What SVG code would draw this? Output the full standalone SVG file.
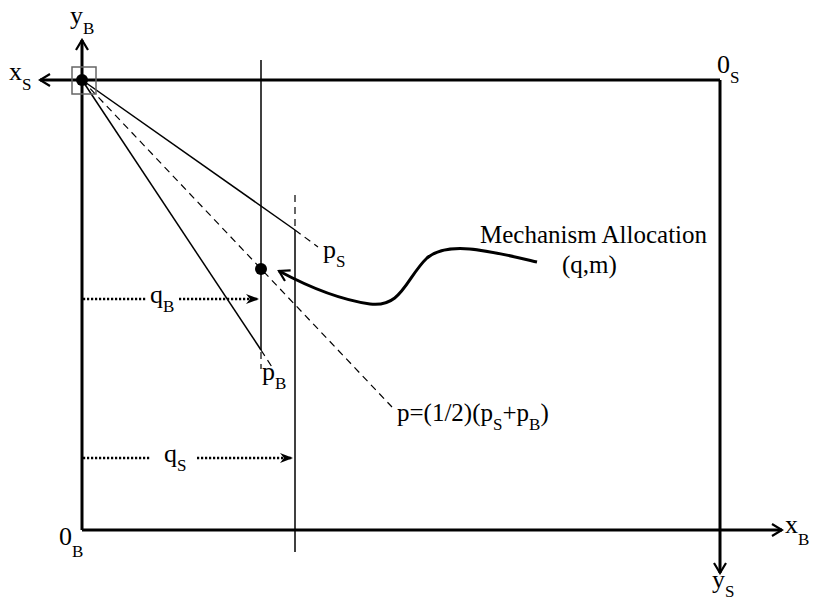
<svg xmlns="http://www.w3.org/2000/svg" width="813" height="600" viewBox="0 0 813 600">
<style>
text{font-family:"Liberation Serif","Times New Roman",serif;fill:#000}
.lbl{font-size:26px}
.sub{font-size:17px}
.thick{stroke:#000;stroke-width:3;fill:none}
.thin{stroke:#000;stroke-width:1.5;fill:none}
.dash{stroke:#000;stroke-width:1.2;fill:none;stroke-dasharray:7 5}
.dot{stroke:#000;stroke-width:2.5;fill:none;stroke-dasharray:2.2 1.8}
</style>
<defs>
<marker id="ah" viewBox="0 0 14 14" refX="12" refY="7" markerWidth="14" markerHeight="14" orient="auto" markerUnits="userSpaceOnUse">
<path d="M2,1 L12,7 L2,13" fill="none" stroke="#000" stroke-width="2.2"/>
</marker>
<marker id="ahf" viewBox="0 0 14 12" refX="13" refY="6" markerWidth="14" markerHeight="12" orient="auto" markerUnits="userSpaceOnUse">
<path d="M0,1 L13,6 L0,11 L4,6 z" fill="#000"/>
</marker>
</defs>
<rect x="0" y="0" width="813" height="600" fill="#fff"/>
<g id="connectors">
<line class="thick" x1="82" y1="80" x2="720" y2="80"/>
<line class="thick" x1="82" y1="80" x2="82" y2="530"/>
<line class="thick" x1="82" y1="530" x2="782" y2="530" marker-end="url(#ah)"/>
<line class="thick" x1="720" y1="80" x2="720" y2="573" marker-end="url(#ah)"/>
<line class="thick" x1="82" y1="80" x2="40" y2="80" marker-end="url(#ah)"/>
<line class="thick" x1="82" y1="80" x2="82" y2="40" marker-end="url(#ah)"/>
<line class="thin" x1="261" y1="60" x2="261" y2="350"/>
<line class="dash" x1="261" y1="352" x2="261" y2="369"/>
<line class="dash" x1="295" y1="195" x2="295" y2="230"/>
<line class="thin" x1="295" y1="230" x2="295" y2="552"/>
<line class="thin" x1="82" y1="80" x2="295" y2="230"/>
<line class="dash" x1="295" y1="230" x2="318" y2="247"/>
<line class="thin" x1="82" y1="80" x2="261" y2="350"/>
<line class="dash" x1="261" y1="350" x2="272" y2="367"/>
<line class="dash" x1="82" y1="80" x2="392" y2="407"/>
<line class="dot" x1="83" y1="299" x2="146" y2="299"/>
<line class="dot" x1="179" y1="299" x2="259" y2="299" marker-end="url(#ahf)"/>
<line class="dot" x1="83" y1="458" x2="151" y2="458"/>
<line class="dot" x1="197" y1="458" x2="293" y2="458" marker-end="url(#ahf)"/>
<path class="thick" d="M537,262 C490,251 448,240 427,258 C406,278 402,308 370,304 C335,299 305,285 279,271" marker-end="url(#ah)"/>
</g>
<g id="origin-box">
<rect x="72" y="67" width="24" height="27" fill="none" stroke="#666" stroke-width="1.5"/>
<circle cx="82" cy="80" r="6" fill="#000"/>
</g>
<g id="allocation-point">
<circle cx="261" cy="269" r="6" fill="#000"/>
</g>
<g id="labels">
<text class="lbl" x="70" y="24">y<tspan class="sub" dy="10">B</tspan></text>
<text class="lbl" x="9" y="80">x<tspan class="sub" dy="10">S</tspan></text>
<text class="lbl" x="717" y="73">0<tspan class="sub" dy="10">S</tspan></text>
<text class="lbl" x="59" y="545">0<tspan class="sub" dy="12">B</tspan></text>
<text class="lbl" x="785" y="533">x<tspan class="sub" dy="12">B</tspan></text>
<text class="lbl" x="712" y="588">y<tspan class="sub" dy="9">S</tspan></text>
<text class="lbl" x="150" y="303">q<tspan class="sub" dy="9">B</tspan></text>
<text class="lbl" x="164" y="462">q<tspan class="sub" dy="9">S</tspan></text>
<text class="lbl" x="323" y="258">p<tspan class="sub" dy="9">S</tspan></text>
<text class="lbl" x="262" y="380">p<tspan class="sub" dy="9">B</tspan></text>
</g>
<g id="mechanism-label">
<text x="480" y="243" font-size="25">Mechanism Allocation</text>
<text x="562" y="273" font-size="25">(q,m)</text>
</g>
<g id="price-label">
<text x="397" y="421" font-size="25">p=(1/2)(p<tspan font-size="17" dy="9">S</tspan><tspan dy="-9">+p</tspan><tspan font-size="17" dy="9">B</tspan><tspan dy="-9">)</tspan></text>
</g>
</svg>
